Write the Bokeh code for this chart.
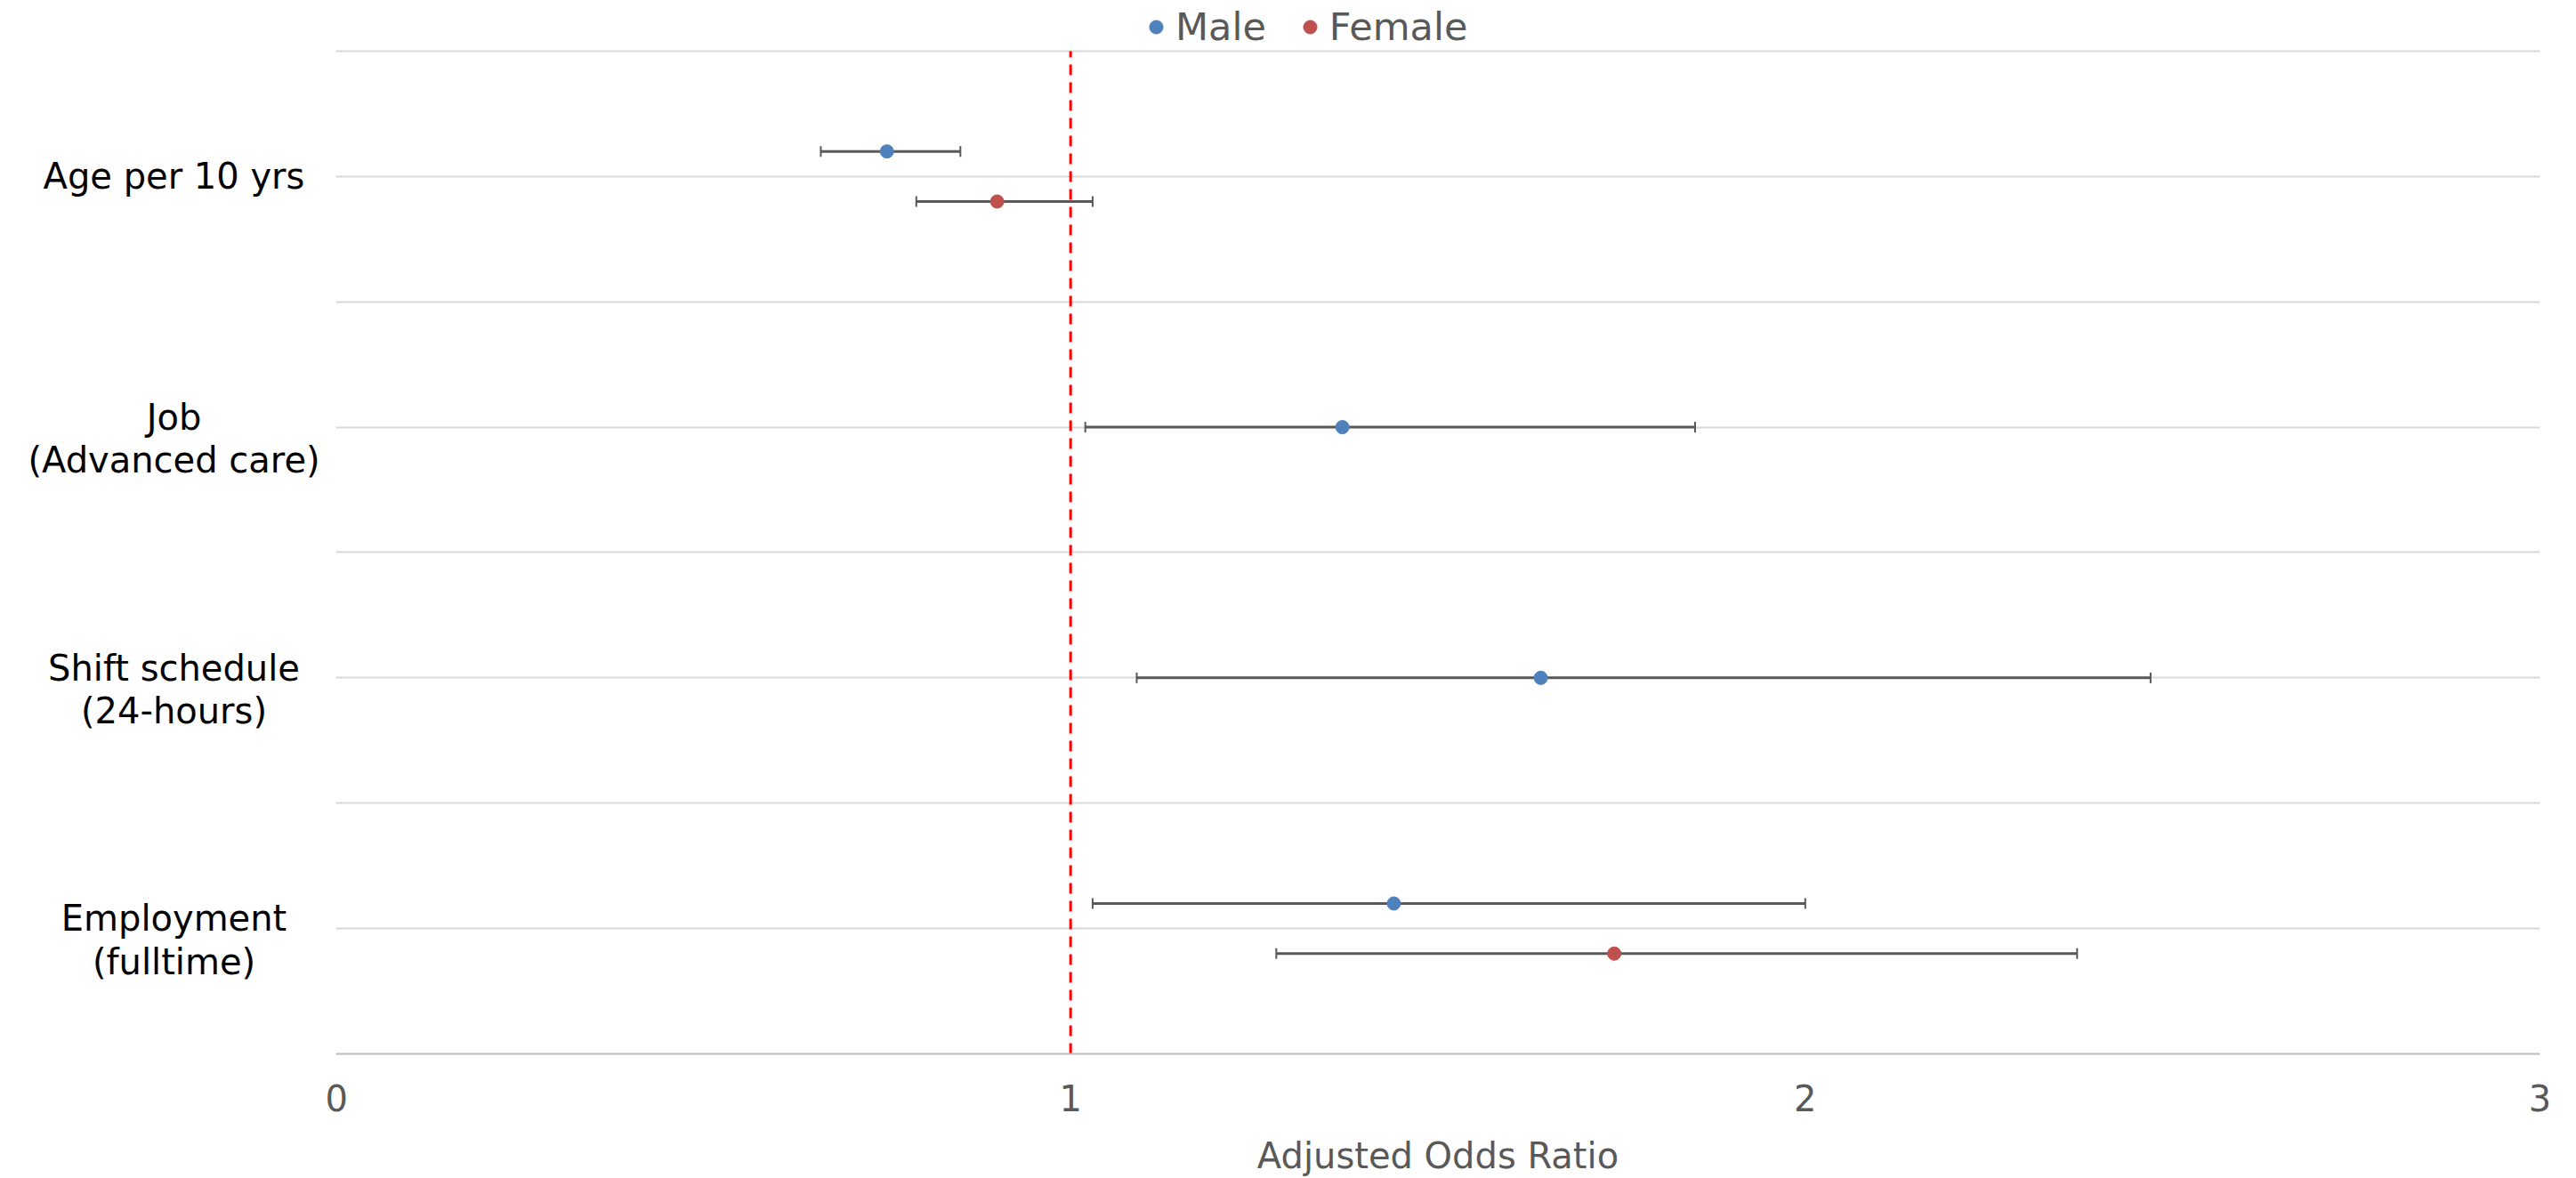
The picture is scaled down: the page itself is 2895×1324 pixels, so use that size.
from bokeh.plotting import figure
from bokeh.layouts import row
from bokeh.models import (ColumnDataSource, Whisker, TeeHead, FixedTicker, Legend, LegendItem, Range1d)
from bokeh.core.properties import value
from bokeh.embed import file_html
from bokeh.resources import INLINE

# ---- data ----
categories = ["Age per 10 yrs", "Job\n(Advanced care)", "Shift schedule\n(24-hours)", "Employment\n(fulltime)"]
male_or = [0.75, 1.37, 1.64, 1.44]
male_lo = [0.66, 1.02, 1.09, 1.03]
male_hi = [0.85, 1.85, 2.47, 2.00]
female_or = [0.90, None, None, 1.74]
female_lo = [0.79, None, None, 1.28]
female_hi = [1.03, None, None, 2.37]
x_ticks = [0, 1, 2, 3]
reference_or = 1

n = len(categories)
cat_y = [2 * (n - i) - 1 for i in range(n)]
off = 0.2
y_top = 2 * n

my, fy, fo, fl, fh = [], [], [], [], []
for i in range(n):
    has_f = female_or[i] is not None
    my.append(cat_y[i] + (off if has_f else 0))
    if has_f:
        fy.append(cat_y[i] - off)
        fo.append(female_or[i]); fl.append(female_lo[i]); fh.append(female_hi[i])

msrc = ColumnDataSource(dict(y=my, x=male_or, lo=male_lo, hi=male_hi))
fsrc = ColumnDataSource(dict(y=fy, x=fo, lo=fl, hi=fh))

FONT = "DejaVu Sans"
GRAY = "#595959"
W, H = 2895, 1324
LEFT_W = 365
PAD_L = 12
BOTTOM = 139
GRID_TOP_PX = 57          # pixel row of the top gridline
FRAME_H = H - BOTTOM      # frame spans from the canvas top
# extend the range above the top gridline to leave room for the legend
yr = Range1d(0, y_top * FRAME_H / (FRAME_H - GRID_TOP_PX))

# ---- main plot ----
p = figure(width=W - LEFT_W, height=H, x_range=(0, 3), y_range=yr,
           output_backend="svg", toolbar_location=None,
           min_border_left=PAD_L, min_border_right=41, min_border_top=0, min_border_bottom=BOTTOM)
p.outline_line_color = None

p.xgrid.grid_line_color = None
p.ygrid.ticker = FixedTicker(ticks=list(range(0, y_top + 1)))
p.ygrid.grid_line_color = "#D9D9D9"
p.ygrid.grid_line_width = 2
p.yaxis.visible = False

xa = p.xaxis[0]
xa.ticker = FixedTicker(ticks=x_ticks)
xa.axis_line_color = "#BFBFBF"
xa.axis_line_width = 2
xa.major_tick_line_color = None
xa.minor_tick_line_color = None
xa.major_label_text_font = FONT
xa.major_label_text_font_size = "40px"
xa.major_label_text_color = GRAY
xa.major_label_standoff = 28
xa.axis_label = "Adjusted Odds Ratio"
xa.axis_label_text_font = FONT
xa.axis_label_text_font_size = "40px"
xa.axis_label_text_font_style = "normal"
xa.axis_label_text_color = GRAY
xa.axis_label_standoff = 24

for src in (msrc, fsrc):
    p.add_layout(Whisker(source=src, base="y", lower="lo", upper="hi", dimension="width",
                         line_color=GRAY, line_width=3, level="underlay",
                         lower_head=TeeHead(size=12, line_color=GRAY, line_width=2),
                         upper_head=TeeHead(size=12, line_color=GRAY, line_width=2)))

# reference line at OR = 1, spanning the gridded area
p.segment(x0=[reference_or], y0=[0], x1=[reference_or], y1=[y_top],
          line_color="#FF0000", line_width=3, line_dash="12 8")

rm = p.scatter("x", "y", source=msrc, size=15, color="#4F81BD", line_color="#4F81BD")
rf = p.scatter("x", "y", source=fsrc, size=15, color="#C0504D", line_color="#C0504D")

legend = Legend(items=[LegendItem(label="Male", renderers=[rm]),
                       LegendItem(label="Female", renderers=[rf])],
                orientation="horizontal", location=(915 - PAD_L, 1129),
                padding=0, margin=0, spacing=30, glyph_width=38, glyph_height=38,
                label_standoff=3, label_height=20,
                label_text_font=FONT, label_text_font_size="43px", label_text_color=GRAY,
                border_line_color=None, background_fill_alpha=0)
p.add_layout(legend, "center")

# ---- category labels (left panel sharing y range) ----
lab = figure(width=LEFT_W, height=H, x_range=(0, 1), y_range=yr,
             output_backend="svg", toolbar_location=None,
             min_border_left=0, min_border_right=0, min_border_top=0, min_border_bottom=BOTTOM)
lab.axis.visible = False
lab.grid.visible = False
lab.outline_line_color = None
lsrc = ColumnDataSource(dict(
    x=[195 / LEFT_W] * n, y=cat_y, text=categories,
    dy=[13 if "\n" in c else 0 for c in categories]))
lab.text("x", "y", text="text", source=lsrc, y_offset="dy",
         text_align="center", text_baseline="middle",
         text_font=value(FONT), text_font_size="40px", text_color="#000000",
         text_line_height=1.05)

layout = row(lab, p, spacing=0)
open("out.html", "w").write(file_html(layout, INLINE))
